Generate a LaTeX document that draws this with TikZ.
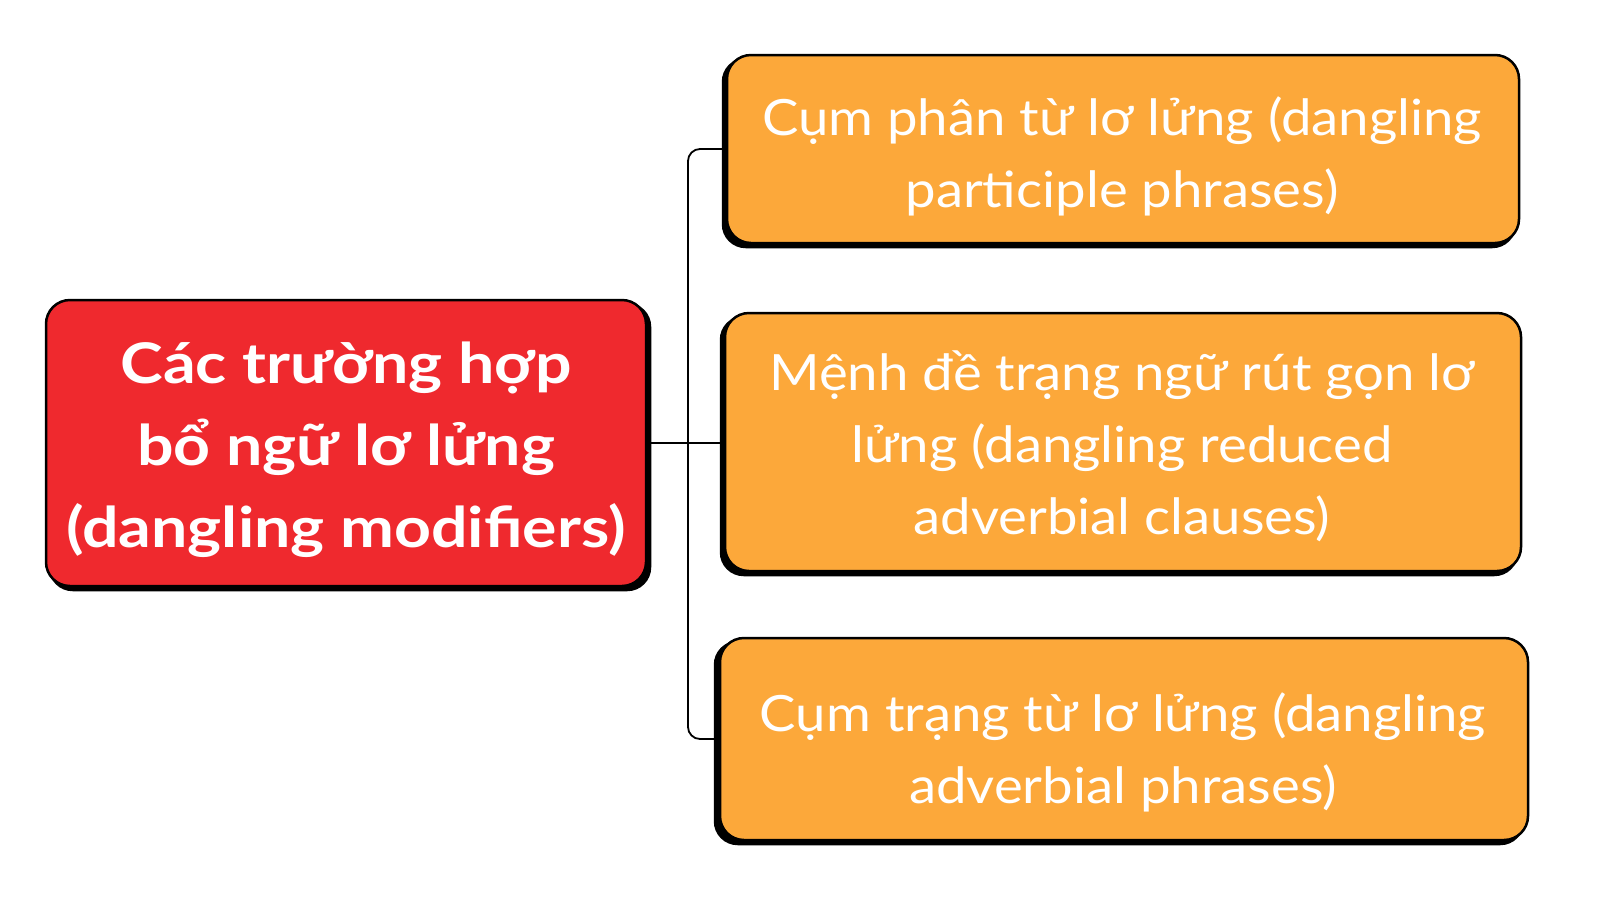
\documentclass[tikz,border=0pt]{standalone}
\usepackage{fontspec}
\setmainfont{Lato}
\newfontfamily\subfont[FakeStretch=1.09]{Lato}
\newfontfamily\mainfont[FakeStretch=1.15]{Lato Bold}
\usetikzlibrary{backgrounds}
\definecolor{boxred}{RGB}{239,41,46}
\definecolor{boxorange}{RGB}{252,168,58}
\tikzset{
  basebox/.style={draw=black, line width=2.5pt, rounded corners=24pt, inner sep=0pt},
  mainbox/.style={basebox, fill=boxred},
  subbox/.style={basebox, fill=boxorange},
  maintext/.style={align=center, text=white, inner sep=0pt, font=\mainfont\fontsize{56}{82}\selectfont},
  subtext/.style={align=center, text=white, inner sep=0pt, font=\subfont\fontsize{50}{72}\selectfont},
  shade/.style={fill=black, rounded corners=24pt},
  link/.style={draw=black, line width=1.8pt, rounded corners=12pt}
}
\begin{document}
\begin{tikzpicture}[x=1pt,y=-1pt]
\useasboundingbox (0,0) rectangle (1600,922);
\node[mainbox, minimum width=600pt, minimum height=286pt] (main) at (346,443) {};
\node[subbox, minimum width=792pt, minimum height=188pt] (s1) at (1123,149) {};
\node[subbox, minimum width=796pt, minimum height=258pt] (s2) at (1123,442) {};
\node[subbox, minimum width=808pt, minimum height=202pt] (s3) at (1124,739) {};
\node[maintext] (maint) at ([shift={(0,7)}]main.center)
  {Các trường hợp\\bổ ngữ lơ lửng\\(dangling modifiers)};
\node[subtext] (s1t) at ([shift={(-1,7)}]s1.center)
  {Cụm phân từ lơ lửng (dangling\\participle phrases)};
\node[subtext] (s2t) at ([shift={(-1,4)}]s2.center)
  {Mệnh đề trạng ngữ rút gọn lơ\\lửng (dangling reduced\\adverbial clauses)};
\node[subtext] (s3t) at ([shift={(-1,13)}]s3.center)
  {Cụm trạng từ lơ lửng (dangling\\adverbial phrases)};
\begin{scope}[on background layer]
  \fill[shade] ([shift={(4,4)}]main.north west) rectangle ([shift={(4,4)}]main.south east);
  \fill[shade] ([shift={(-4,4)}]s1.north west) rectangle ([shift={(-4,4)}]s1.south east);
  \fill[shade] ([shift={(-4,4)}]s2.north west) rectangle ([shift={(-4,4)}]s2.south east);
  \fill[shade] ([shift={(-5,4)}]s3.north west) rectangle ([shift={(-5,4)}]s3.south east);
\end{scope}
\coordinate (jx) at (688,443);
\draw[link] (main.east) -- (main.east -| s2.west);
\draw[link] (s1.west) -- (s1.west -| jx) -- (s3.west -| jx) -- (s3.west);
\end{tikzpicture}
\end{document}
